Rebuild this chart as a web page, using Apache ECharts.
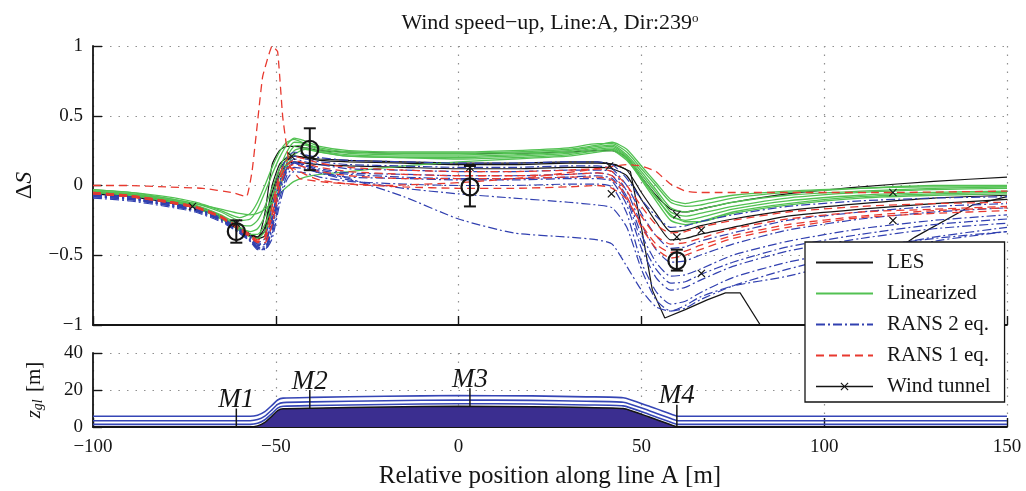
<!DOCTYPE html>
<html>
<head>
<meta charset="utf-8">
<script src="https://cdn.jsdelivr.net/npm/echarts@6/dist/echarts.min.js"></script>
<style>
  html, body { margin: 0; padding: 0; background: #fff; }
  #chart { width: 1026px; height: 491px; }
</style>
</head>
<body>
<div id="chart"></div>
<script>
// position along line A [m], shared by most curves
const posX = [-100,-90,-80,-72,-65,-60,-57,-55,-53,-51,-49,-47,-45,-42,-38,-30,-15,0,15,30,38,42,46,50,54,58,62,66,75,90,110,130,150];

// LES
const les1 = [-0.05,-0.07,-0.11,-0.15,-0.22,-0.30, -0.35,-0.38,-0.20,0.15, 0.25,0.28,0.28,0.27,0.25, 0.24,0.23,0.23,0.23,0.24, 0.25,0.25,0.20,0.06,-0.07, -0.17,-0.19,-0.17,-0.12,-0.06, -0.01,0.03,0.06];
const les2 = [-0.05,-0.07,-0.11,-0.15,-0.22,-0.31, -0.35,-0.37,-0.30,0.00, 0.15,0.20,0.21,0.20,0.18, 0.17,0.16,0.15,0.15,0.16, 0.16,0.15,0.11,-0.05,-0.20, -0.33,-0.32,-0.29,-0.24,-0.18, -0.13,-0.09,-0.07];
const les3 = [-0.06,-0.08,-0.12,-0.16,-0.23,-0.32, -0.36,-0.38,-0.36,-0.10, 0.08,0.15,0.17,0.16,0.15, 0.14,0.13,0.12,0.12,0.13, 0.13,0.12,0.07,-0.10,-0.26, -0.39,-0.38,-0.35,-0.30,-0.22, -0.17,-0.13,-0.10];
const lesDeepX = [-100,-90,-80,-72,-65,-60,-57,-55,-53,-51,-49,-47,-45,-42,-38,-30,-15,0,15,30,38,43,47,50,53,56.4,62,68,73,77,83,92,100,112,124.8,140.6,150];
const lesDeepY = [-0.05,-0.07,-0.11,-0.15,-0.22,-0.30,-0.35,-0.37,-0.33,-0.05,0.12,0.19,0.21,0.20,0.19,0.18,0.17,0.16,0.16,0.17,0.17,0.15,0.10,-0.30,-0.75,-0.95,-0.89,-0.82,-0.77,-0.77,-1.02,-1.15,-0.85,-0.60,-0.37,-0.14,-0.08];

// Linearized
const lin1 = [-0.03,-0.05,-0.09,-0.13,-0.19,-0.25, -0.24,-0.17,-0.05,0.08, 0.20,0.29,0.34,0.32,0.28, 0.25,0.24,0.24,0.25,0.27, 0.30,0.30,0.24,0.12,0.00, -0.12,-0.15,-0.14,-0.09,-0.05, -0.02,0.00,0.00];
const lin2 = [-0.04,-0.06,-0.10,-0.14,-0.21,-0.28, -0.29,-0.25,-0.15,-0.02, 0.12,0.24,0.31,0.30,0.26, 0.23,0.22,0.22,0.23,0.25, 0.28,0.29,0.22,0.10,-0.03, -0.16,-0.19,-0.17,-0.12,-0.07, -0.04,-0.02,-0.01];
const lin3 = [-0.04,-0.06,-0.10,-0.15,-0.22,-0.30, -0.33,-0.31,-0.22,-0.08, 0.06,0.20,0.28,0.29,0.25, 0.22,0.21,0.21,0.22,0.24, 0.27,0.28,0.21,0.08,-0.05, -0.19,-0.22,-0.20,-0.15,-0.09, -0.05,-0.03,-0.02];
const lin4 = [-0.05,-0.07,-0.11,-0.15,-0.23,-0.31, -0.35,-0.35,-0.28,-0.14, 0.02,0.16,0.25,0.27,0.24, 0.21,0.20,0.20,0.21,0.23, 0.26,0.27,0.20,0.06,-0.08, -0.22,-0.25,-0.23,-0.17,-0.11, -0.07,-0.05,-0.04];
const lin5 = [-0.05,-0.07,-0.11,-0.16,-0.24,-0.32, -0.37,-0.38,-0.33,-0.20, -0.03,0.13,0.22,0.26,0.24, 0.21,0.20,0.19,0.20,0.22, 0.25,0.26,0.19,0.04,-0.11, -0.25,-0.28,-0.26,-0.19,-0.13, -0.08,-0.06,-0.05];
const lin6 = [-0.04,-0.06,-0.09,-0.13,-0.17,-0.20, -0.21,-0.20,-0.17,-0.12, -0.06,-0.01,0.03,0.06,0.08, 0.10,0.14,0.17,0.19,0.21, 0.24,0.25,0.18,0.05,-0.09, -0.21,-0.26,-0.26,-0.20,-0.14, -0.09,-0.07,-0.06];
const lin7 = [-0.03,-0.05,-0.08,-0.12,-0.18,-0.23, -0.20,-0.12,0.00,0.13, 0.24,0.31,0.33,0.30,0.27, 0.24,0.23,0.23,0.24,0.26, 0.29,0.31,0.26,0.14,0.02, -0.10,-0.13,-0.11,-0.07,-0.04, -0.02,-0.01,-0.01];

// RANS 2 eq.
const ke1 = [-0.06,-0.08,-0.12,-0.16,-0.23,-0.31, -0.36,-0.41,-0.38,-0.15, 0.08,0.20,0.24,0.22,0.20, 0.18,0.17,0.16,0.16,0.17, 0.17,0.15,0.05,-0.10,-0.22, -0.30,-0.29,-0.26,-0.21,-0.15, -0.11,-0.09,-0.08];
const ke2 = [-0.07,-0.09,-0.13,-0.17,-0.24,-0.32, -0.38,-0.43,-0.42,-0.22, 0.02,0.16,0.21,0.19,0.17, 0.15,0.14,0.13,0.13,0.14, 0.14,0.12,0.00,-0.20,-0.36, -0.45,-0.44,-0.40,-0.34,-0.25, -0.19,-0.15,-0.13];
const ke3 = [-0.07,-0.09,-0.13,-0.17,-0.24,-0.33, -0.39,-0.44,-0.44,-0.28, -0.02,0.13,0.19,0.17,0.15, 0.12,0.11,0.10,0.10,0.11, 0.11,0.10,-0.04,-0.28,-0.46, -0.55,-0.54,-0.50,-0.42,-0.32, -0.24,-0.19,-0.16];
const ke4 = [-0.08,-0.10,-0.14,-0.18,-0.25,-0.33, -0.39,-0.45,-0.45,-0.32, -0.06,0.10,0.16,0.15,0.12, 0.09,0.08,0.07,0.07,0.08, 0.09,0.07,-0.08,-0.35,-0.55, -0.65,-0.64,-0.60,-0.50,-0.40, -0.31,-0.25,-0.21];
const ke5 = [-0.08,-0.10,-0.14,-0.18,-0.25,-0.34, -0.40,-0.46,-0.46,-0.35, -0.10,0.07,0.13,0.12,0.09, 0.06,0.05,0.04,0.04,0.05, 0.05,0.03,-0.14,-0.45,-0.66, -0.75,-0.73,-0.68,-0.58,-0.47, -0.38,-0.31,-0.27];
const ke6 = [-0.09,-0.11,-0.15,-0.19,-0.26,-0.34, -0.40,-0.45,-0.46,-0.38, -0.14,0.04,0.10,0.09,0.06, 0.03,0.01,0.00,0.00,0.01, 0.01,-0.01,-0.20,-0.55,-0.76, -0.85,-0.83,-0.77,-0.66,-0.55, -0.45,-0.38,-0.33];
const ke7 = [-0.07,-0.09,-0.13,-0.17,-0.24,-0.32, -0.37,-0.42,-0.41,-0.25, 0.00,0.12,0.16,0.13,0.09, 0.04,-0.02,-0.06,-0.09,-0.12, -0.14,-0.16,-0.30,-0.60,-0.82, -0.90,-0.88,-0.82,-0.72,-0.60, -0.47,-0.37,-0.30];
const ke8 = [-0.07,-0.09,-0.13,-0.17,-0.24,-0.32, -0.37,-0.42,-0.42,-0.24, 0.00,0.12,0.16,0.15,0.10, 0.05,-0.08,-0.24,-0.34,-0.37, -0.39,-0.42,-0.58,-0.75,-0.87, -0.90,-0.86,-0.80,-0.72,-0.65, -0.52,-0.40,-0.33];
const ke9 = [-0.08,-0.10,-0.14,-0.18,-0.25,-0.33, -0.39,-0.44,-0.45,-0.30, -0.04,0.11,0.17,0.14,0.11, 0.08,0.06,0.05,0.05,0.06, 0.07,0.05,-0.10,-0.40,-0.60, -0.70,-0.69,-0.64,-0.55,-0.44, -0.35,-0.28,-0.24];

// RANS 1 eq.
const oneSpikeX = [-100,-90,-80,-70,-62,-58,-56.5,-55.3,-53.6,-51,-49.5,-48.1,-46.2,-43.5,-35,-20,0,20,38,46,50,54,58,62,66,90,120,150];
const oneSpikeY = [0.00,0.00,-0.01,-0.02,-0.05,-0.08,0.10,0.38,0.78,1.00,0.96,0.49,0.14,0.05,0.02,0.00,0.02,0.06,0.12,0.15,0.14,0.10,0.01,-0.04,-0.05,-0.05,-0.05,-0.04];
const one2 = [-0.05,-0.07,-0.11,-0.15,-0.22,-0.30, -0.35,-0.39,-0.36,-0.15, 0.08,0.18,0.21,0.19,0.16, 0.13,0.11,0.10,0.10,0.11, 0.12,0.10,0.00,-0.15,-0.28, -0.34,-0.33,-0.30,-0.25,-0.19, -0.15,-0.13,-0.12];
const one3 = [-0.06,-0.08,-0.12,-0.16,-0.23,-0.31, -0.36,-0.40,-0.39,-0.22, 0.03,0.15,0.18,0.16,0.13, 0.10,0.08,0.07,0.07,0.08, 0.09,0.07,-0.04,-0.22,-0.36, -0.42,-0.41,-0.38,-0.31,-0.24, -0.19,-0.17,-0.15];
const one4 = [-0.06,-0.08,-0.12,-0.16,-0.23,-0.32, -0.37,-0.41,-0.41,-0.28, -0.02,0.12,0.15,0.13,0.10, 0.07,0.05,0.05,0.05,0.06, 0.06,0.04,-0.08,-0.30,-0.45, -0.52,-0.50,-0.46,-0.38,-0.30, -0.23,-0.20,-0.18];
const one5 = [-0.05,-0.07,-0.11,-0.15,-0.22,-0.31, -0.36,-0.40,-0.38,-0.20, 0.05,0.13,0.12,0.08,0.04, 0.01,-0.01,-0.02,-0.02,-0.01, 0.00,-0.02,-0.10,-0.28,-0.42, -0.48,-0.47,-0.43,-0.36,-0.28, -0.22,-0.18,-0.16];

// wind tunnel points
const tunnelX = [-72.8,-60.8,-45.7,3.1,41.3,41.8,59.7,59.7,66.4,66.4,118.8,118.8];
const tunnelY = [-0.15,-0.27,0.21,0.13,0.14,-0.06,-0.21,-0.37,-0.32,-0.63,-0.05,-0.25];

// field masts: measured speed-up with error bars
const mastX = [-60.8,-40.7,3.1,59.7];
const mastDS = [-0.33,0.26,-0.01,-0.54];
const mastLo = [-0.41,0.11,-0.15,-0.61];
const mastHi = [-0.25,0.41,0.14,-0.46];
const mastNames = ['M1','M2','M3','M4'];
const mastBase = [0,10.2,11.2,0];
const mastTop = [10,20,21,12];

// terrain profile and grid levels
const terrainX = [-100,-57,-55,-53,-51,-49.5,-48,-40,-20,0,20,35,45,52,59,60,150];
const terrainZ = [0,0,0.6,2.5,6,8.8,9.8,10.2,10.8,11.2,11,10.5,10,5.5,0.5,0,0];
const level1 = [1.4,1.4,2.0,3.9,7.4,10.2,11.2,11.6,12.2,12.6,12.4,11.9,11.4,6.9,1.9,1.4,1.4];
const level2 = [3.4,3.4,4.0,5.9,9.4,12.2,13.2,13.6,14.2,14.6,14.4,13.9,13.4,8.9,3.9,3.4,3.4];
const level3 = [5.8,5.8,6.4,8.3,11.8,14.6,15.6,16.0,16.6,17.0,16.8,16.3,15.8,11.3,6.3,5.8,5.8];

const serif = '"Liberation Serif", "DejaVu Serif", serif';
const ink = '#151515';
const green = '#52c152';
const blue = '#3140b0';
const red = '#e8392f';

function pairs(xs, ys) {
    return xs.map((x, i) => [x, ys[i]]);
}

function curve(name, xs, ys, lineStyle, smooth) {
    return {
        name: name, type: 'line', xAxisIndex: 0, yAxisIndex: 0,
        data: pairs(xs, ys), symbol: 'none', smooth: smooth, silent: true,
        lineStyle: lineStyle
    };
}

const lesStyle = { color: ink, width: 1.2 };
const linStyle = { color: green, width: 1.3 };
const keStyle = { color: blue, width: 1.2, type: [9, 3, 2, 3] };
const oneStyle = { color: red, width: 1.3, type: [8, 5] };

const series = [];
[les1, les2, les3].forEach(d => series.push(curve('LES', posX, d, lesStyle, 0.2)));
series.push(curve('LES', lesDeepX, lesDeepY, lesStyle, 0));
[lin1, lin2, lin3, lin4, lin5, lin6, lin7].forEach(d => series.push(curve('Linearized', posX, d, linStyle, 0.2)));
[ke1, ke2, ke3, ke4, ke5, ke6, ke7, ke8, ke9].forEach(d => series.push(curve('RANS 2 eq.', posX, d, keStyle, 0.2)));
series.push(curve('RANS 1 eq.', oneSpikeX, oneSpikeY, oneStyle, 0.1));
[one2, one3, one4, one5].forEach(d => series.push(curve('RANS 1 eq.', posX, d, oneStyle, 0.2)));

// wind tunnel: markers only, the legend gets the line back
series.push({
    name: 'Wind tunnel', type: 'line', xAxisIndex: 0, yAxisIndex: 0,
    data: pairs(tunnelX, tunnelY),
    symbol: 'path://M0,1L1,0L5,4L9,0L10,1L6,5L10,9L9,10L5,6L1,10L0,9L4,5Z',
    symbolSize: 8, showSymbol: true,
    itemStyle: { color: ink },
    lineStyle: { color: ink, width: 1.2, opacity: 0 },
    z: 5
});

// circles with error bars at the masts
series.push({
    name: 'Masts', type: 'custom', xAxisIndex: 0, yAxisIndex: 0, z: 6,
    data: mastX.map((x, i) => [x, mastDS[i], mastLo[i], mastHi[i]]),
    encode: { x: 0, y: 1 },
    renderItem: function (params, api) {
        const c = api.coord([api.value(0), api.value(1)]);
        const lo = api.coord([api.value(0), api.value(2)]);
        const hi = api.coord([api.value(0), api.value(3)]);
        const st = { stroke: ink, lineWidth: 2, fill: null };
        return {
            type: 'group', children: [
                { type: 'line', shape: { x1: c[0], y1: lo[1], x2: c[0], y2: hi[1] }, style: st },
                { type: 'line', shape: { x1: c[0] - 6, y1: lo[1], x2: c[0] + 6, y2: lo[1] }, style: st },
                { type: 'line', shape: { x1: c[0] - 6, y1: hi[1], x2: c[0] + 6, y2: hi[1] }, style: st },
                { type: 'circle', shape: { cx: c[0], cy: c[1], r: 8.5 }, style: { stroke: ink, lineWidth: 2.2, fill: 'rgba(0,0,0,0)' } }
            ]
        };
    }
});

// bottom panel: terrain and levels above ground
series.push({
    name: 'terrain', type: 'line', xAxisIndex: 1, yAxisIndex: 1,
    data: pairs(terrainX, terrainZ), symbol: 'none', smooth: 0.2, silent: true,
    lineStyle: { color: ink, width: 1.5 },
    areaStyle: { color: '#3b2e90', opacity: 1 }
});
[level1, level2, level3].forEach(d => series.push({
    name: 'level', type: 'line', xAxisIndex: 1, yAxisIndex: 1,
    data: pairs(terrainX, d), symbol: 'none', smooth: 0.2, silent: true,
    lineStyle: { color: '#3545b5', width: 1.6 }
}));
series.push({
    name: 'mast poles', type: 'custom', xAxisIndex: 1, yAxisIndex: 1, z: 6,
    data: mastX.map((x, i) => [x, mastBase[i], mastTop[i]]),
    encode: { x: 0, y: 2 },
    renderItem: function (params, api) {
        const b = api.coord([api.value(0), api.value(1)]);
        const t = api.coord([api.value(0), api.value(2)]);
        return {
            type: 'group', children: [
                { type: 'line', shape: { x1: b[0], y1: b[1], x2: t[0], y2: t[1] }, style: { stroke: ink, lineWidth: 1.5 } },
                { type: 'text', x: t[0], y: t[1] + 5, style: {
                    text: mastNames[params.dataIndex], fill: ink,
                    font: 'italic 27px ' + serif, align: 'center', verticalAlign: 'bottom'
                } }
            ]
        };
    }
});

const minus = v => (v < 0 ? '\u2212' + Math.abs(v) : String(v));
const gridLine = { show: true, lineStyle: { color: '#909090', width: 1.2, type: [1.5, 7] } };
const axisLine = { show: true, onZero: false, lineStyle: { color: ink, width: 1.8 } };
const tick = { show: true, inside: true, length: 9, lineStyle: { color: ink, width: 1.4 } };
const tickFont = { fontFamily: serif, fontSize: 19, color: ink };

const chart = echarts.init(document.getElementById('chart'));
chart.setOption({
    animation: false,
    backgroundColor: '#fff',
    title: {
        text: 'Wind speed\u2212up, Line:A, Dir:239{sup|o}',
        left: 545, top: 7, textAlign: 'center',
        textStyle: {
            fontFamily: serif, fontSize: 22, fontWeight: 'normal', color: ink,
            rich: { sup: { fontFamily: serif, fontSize: 13, verticalAlign: 'top', color: ink } }
        }
    },
    legend: {
        orient: 'vertical', left: 805, top: 242,
        padding: [10, 14, 5, 10],
        itemWidth: 57, itemHeight: 10, itemGap: 10,
        backgroundColor: '#fff', borderColor: ink, borderWidth: 1.3, borderRadius: 0,
        textStyle: { fontFamily: serif, fontSize: 21, color: ink, lineHeight: 20, padding: [0, 0, 0, 9] },
        data: [
            { name: 'LES', itemStyle: { opacity: 0 } },
            { name: 'Linearized', itemStyle: { opacity: 0 } },
            { name: 'RANS 2 eq.', itemStyle: { opacity: 0 } },
            { name: 'RANS 1 eq.', itemStyle: { opacity: 0 } },
            { name: 'Wind tunnel', lineStyle: { opacity: 1, width: 1.5, color: ink } }
        ]
    },
    grid: [
        { left: 93, right: 19, top: 46, height: 279 },
        { left: 93, right: 19, top: 353, height: 74 }
    ],
    xAxis: [
        {
            gridIndex: 0, type: 'value', min: -100, max: 150, interval: 50,
            axisLine: axisLine, axisTick: tick, axisLabel: { show: false }, splitLine: gridLine
        },
        {
            gridIndex: 1, type: 'value', min: -100, max: 150, interval: 50,
            axisLine: axisLine, axisTick: tick, splitLine: gridLine,
            axisLabel: Object.assign({ margin: 11, formatter: minus }, tickFont),
            name: 'Relative position along line A [m]', nameLocation: 'middle', nameGap: 37,
            nameTextStyle: { fontFamily: serif, fontSize: 25, color: ink }
        }
    ],
    yAxis: [
        {
            gridIndex: 0, type: 'value', min: -1, max: 1, interval: 0.5,
            axisLine: axisLine, axisTick: tick, splitLine: gridLine,
            axisLabel: Object.assign({ margin: 10, formatter: minus }, tickFont),
            name: '\u0394{i|S}', nameLocation: 'middle', nameGap: 56,
            nameTextStyle: {
                fontFamily: serif, fontSize: 24, color: ink,
                rich: { i: { fontFamily: serif, fontSize: 24, fontStyle: 'italic', color: ink } }
            }
        },
        {
            gridIndex: 1, type: 'value', min: 0, max: 40, interval: 20,
            axisLine: axisLine, axisTick: tick, splitLine: gridLine,
            axisLabel: Object.assign({ margin: 10 }, tickFont),
            name: '{z|z}{s|gl} [m]', nameLocation: 'middle', nameGap: 48,
            nameTextStyle: {
                fontFamily: serif, fontSize: 21, color: ink,
                rich: {
                    z: { fontFamily: serif, fontSize: 21, fontStyle: 'italic', color: ink },
                    s: { fontFamily: serif, fontSize: 14, fontStyle: 'italic', color: ink, verticalAlign: 'bottom', padding: [8, 2, 0, 0] }
                }
            }
        }
    ],
    series: series
});
</script>
</body>
</html>
